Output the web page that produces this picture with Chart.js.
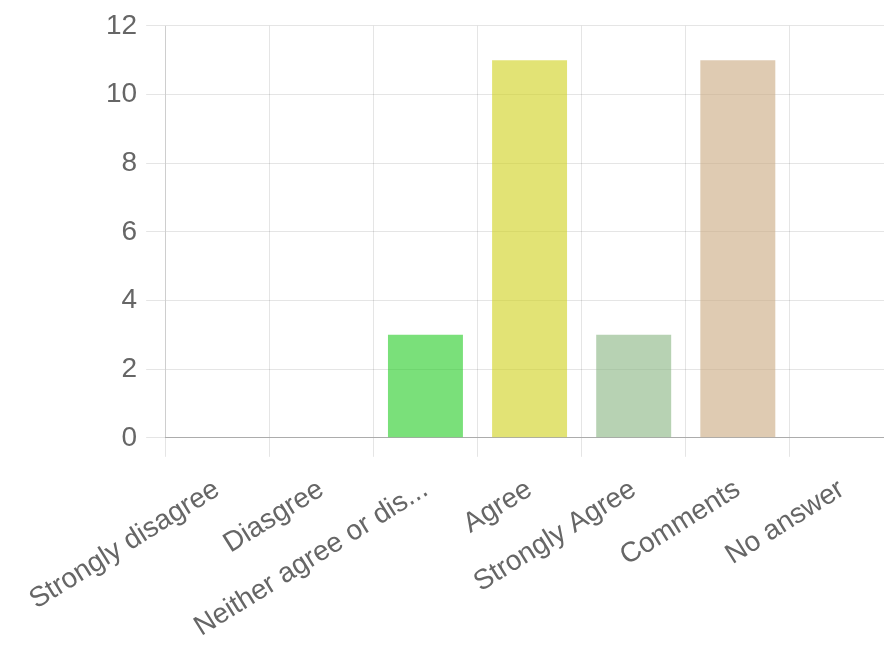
<!DOCTYPE html>
<html>
<head>
<meta charset="utf-8">
<script src="https://cdn.jsdelivr.net/npm/chart.js@4"></script>
<style>
  html, body { margin: 0; padding: 0; overflow: hidden; background: #fff; }
  #wrap { width: 894px; height: 650px; }
</style>
</head>
<body>
<div id="wrap"><canvas id="answers" width="894" height="650"></canvas></div>
<script>
var categories = ['Strongly disagree', 'Diasgree', 'Neither agree or disagree', 'Agree', 'Strongly Agree', 'Comments', 'No answer'];
var counts = [0, 0, 3, 11, 3, 11, 0];
var barColours = ['rgba(220,90,90,0.6)', 'rgba(230,150,60,0.6)', 'rgba(33,203,33,0.6)', 'rgba(207,208,25,0.6)',
    'rgba(135,180,128,0.6)', 'rgba(201,168,127,0.6)', 'rgba(120,120,200,0.6)'];
var yTicks = [0, 2, 4, 6, 8, 10, 12];

var shorten = function(label) {
    return label.length > 20 ? label.substr(0, 20) + '...' : label;
};

Chart.defaults.font.family = '"Liberation Sans", Arial, Helvetica, sans-serif';
Chart.defaults.font.size = 28;
Chart.defaults.color = '#666';

new Chart(document.getElementById('answers'), {
    type: 'bar',
    data: {
        labels: categories,
        datasets: [{
            label: 'Answers',
            data: counts,
            backgroundColor: barColours,
            borderWidth: 0
        }]
    },
    options: {
        responsive: false,
        animation: false,
        layout: { padding: { left: 97, top: 19, right: 0, bottom: -10 } },
        plugins: { legend: { display: false }, tooltip: { enabled: false } },
        scales: {
            x: {
                grid: { color: 'rgba(0,0,0,0.1)', tickLength: 19 },
                border: { color: 'rgba(0,0,0,0.25)' },
                ticks: {
                    minRotation: 32,
                    maxRotation: 32,
                    padding: 16,
                    callback: function(v) { return shorten(this.getLabelForValue(v)); }
                }
            },
            y: {
                min: 0,
                max: 12,
                afterBuildTicks: function(axis) {
                    axis.ticks = yTicks.map(function(t) { return { value: t }; });
                },
                grid: { color: 'rgba(0,0,0,0.1)', tickLength: 19 },
                border: { color: 'rgba(0,0,0,0.1)' },
                ticks: { padding: 9 }
            }
        }
    }
});
</script>
</body>
</html>
